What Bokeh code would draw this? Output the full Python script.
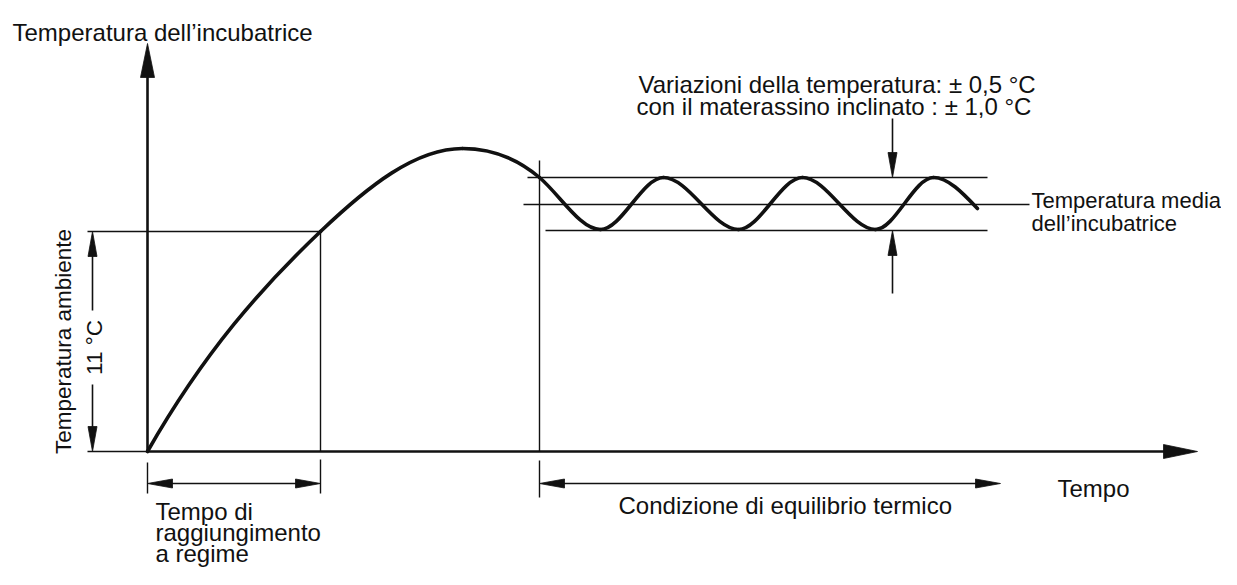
from bokeh.plotting import figure
from bokeh.models import Range1d
from bokeh.embed import file_html
from bokeh.resources import INLINE
from bokeh.core.properties import value

# ---------------- data (time units / temperature units of the schematic) -------------
# key points of the incubator temperature curve: time, temperature, slope
curve_t = [0, 173, 315, 392, 453, 516, 591, 655, 728, 786, 830]
curve_temp = [0, 220, 303, 274, 222, 274, 222, 274, 222, 274, 243]
curve_slope = [1.75, 0.95, 0.0, -0.85, 0.0, 0.0, 0.0, 0.0, 0.0, 0.0, -1.05]

t_regime = 173          # time to reach steady state
t_equilibrio = 392      # start of thermal equilibrium
t_equilibrio_end = 853  # end of equilibrium dimension arrow
temp_ambiente = 220     # ambient-temperature level (11 °C)
band_top = 274          # upper limit of variation
band_mean = 247         # mean incubator temperature
band_bottom = 221       # lower limit of variation
t_band_arrow = 745      # time of the variation arrows
t_axis_end = 1050
temp_axis_end = 408

FONT = "Liberation Sans"
FS = "24px"
INK = "#111111"

p = figure(width=1221, height=569, x_range=Range1d(-147, 1074), y_range=Range1d(-118, 451),
           output_backend="svg", toolbar_location=None, x_axis_location=None,
           y_axis_location=None, min_border=0)
p.grid.visible = False
p.outline_line_color = None
p.background_fill_color = "white"


def head(tx, ty, dx, dy, length=25, hw=5):
    """triangle with tip at (tx,ty) pointing in direction (dx,dy)"""
    bx, by = tx - dx * length, ty - dy * length
    px_, py_ = -dy, dx
    return [tx, bx + px_ * hw, bx - px_ * hw], [ty, by + py_ * hw, by - py_ * hw]


heads_x, heads_y = [], []


def add_head(*a, **k):
    hx, hy = head(*a, **k)
    heads_x.append(hx)
    heads_y.append(hy)


# ---------------- axes ----------------
p.segment(x0=[0, 0], y0=[0, 0], x1=[t_axis_end - 20, 0], y1=[0, temp_axis_end - 20],
          line_width=2.6, line_color=INK)
add_head(t_axis_end, 0, 1, 0, length=34, hw=7)
add_head(0, temp_axis_end, 0, 1, length=34, hw=7)

# ---------------- thin construction lines ----------------
thin_x0 = [-60, -60, t_regime, t_regime, 0, t_equilibrio, t_equilibrio,
           380, 376, 398]
thin_y0 = [temp_ambiente, 0, temp_ambiente, -8, -11, 291, -9,
           band_top, band_mean, band_bottom]
thin_x1 = [t_regime, 0, t_regime, t_regime, 0, t_equilibrio, t_equilibrio,
           840, 882, 840]
thin_y1 = [temp_ambiente, 0, 0, -42, -42, 0, -46,
           band_top, band_mean, band_bottom]
p.segment(x0=thin_x0, y0=thin_y0, x1=thin_x1, y1=thin_y1, line_width=1.4, line_color=INK)

# dimension lines
dim_y = -32
p.segment(x0=[10, t_equilibrio + 10, -55, -55, t_band_arrow, t_band_arrow],
          y0=[dim_y, dim_y, temp_ambiente - 10, 0 + 10, 333, 158],
          x1=[t_regime - 10, t_equilibrio_end - 10, -55, -55, t_band_arrow, t_band_arrow],
          y1=[dim_y, dim_y, 141, 67, band_top + 10, band_bottom - 10],
          line_width=1.6, line_color=INK)
add_head(0, dim_y, -1, 0, length=25, hw=4.5)
add_head(t_regime, dim_y, 1, 0, length=25, hw=4.5)
add_head(t_equilibrio, dim_y, -1, 0, length=25, hw=4.5)
add_head(t_equilibrio_end, dim_y, 1, 0, length=25, hw=4.5)
add_head(-55, temp_ambiente, 0, 1, length=25, hw=4.5)
add_head(-55, 0, 0, -1, length=25, hw=4.5)
add_head(t_band_arrow, band_top, 0, -1, length=25, hw=4.5)
add_head(t_band_arrow, band_bottom, 0, 1, length=25, hw=4.5)

p.patches(xs=heads_x, ys=heads_y, fill_color=INK, line_color=INK, line_width=0.8)

# ---------------- temperature curve (Hermite -> Bezier) ----------------
bx0, by0, bx1, by1, bcx0, bcy0, bcx1, bcy1 = [], [], [], [], [], [], [], []
for i in range(len(curve_t) - 1):
    t0, t1 = curve_t[i], curve_t[i + 1]
    y0, y1 = curve_temp[i], curve_temp[i + 1]
    d = (t1 - t0) / 3.0
    bx0.append(t0); by0.append(y0); bx1.append(t1); by1.append(y1)
    bcx0.append(t0 + d); bcy0.append(y0 + curve_slope[i] * d)
    bcx1.append(t1 - d); bcy1.append(y1 - curve_slope[i + 1] * d)
p.bezier(x0=bx0, y0=by0, x1=bx1, y1=by1, cx0=bcx0, cy0=bcy0, cx1=bcx1, cy1=bcy1,
         line_width=3.6, line_color=INK, line_cap="round")

# ---------------- texts ----------------
lab_text = ["Temperatura dell\u2019incubatrice",
            "Variazioni della temperatura: \u00b1 0,5 \u00b0C",
            "con il materassino inclinato  : \u00b1 1,0 \u00b0C",
            "Tempo",
            "Condizione di equilibrio termico",
            "Tempo di",
            "raggiungimento",
            "a regime"]
lab_x = [-135, 491, 489, 910, 471, 8, 8, 8]
lab_y = [419, 367, 345, -37, -54, -60, -81, -102]
p.text(x=lab_x, y=lab_y, text=lab_text, text_font=value(FONT), text_font_size=FS,
       text_color=INK, text_align="left", text_baseline="alphabetic")

media_text = ["Temperatura media", "dell\u2019incubatrice"]
p.text(x=[884, 884], y=[251, 228], text=media_text, text_font=value(FONT),
       text_font_size="22px", text_color=INK, text_align="left", text_baseline="alphabetic")

p.text(x=[-84, -53], y=[110, 104], text=["Temperatura ambiente", "11 \u00b0C"],
       angle=1.5708, text_font=value(FONT), text_font_size="22.5px", text_color=INK,
       text_align="center", text_baseline="middle")

open("out.html", "w").write(file_html(p, INLINE))
